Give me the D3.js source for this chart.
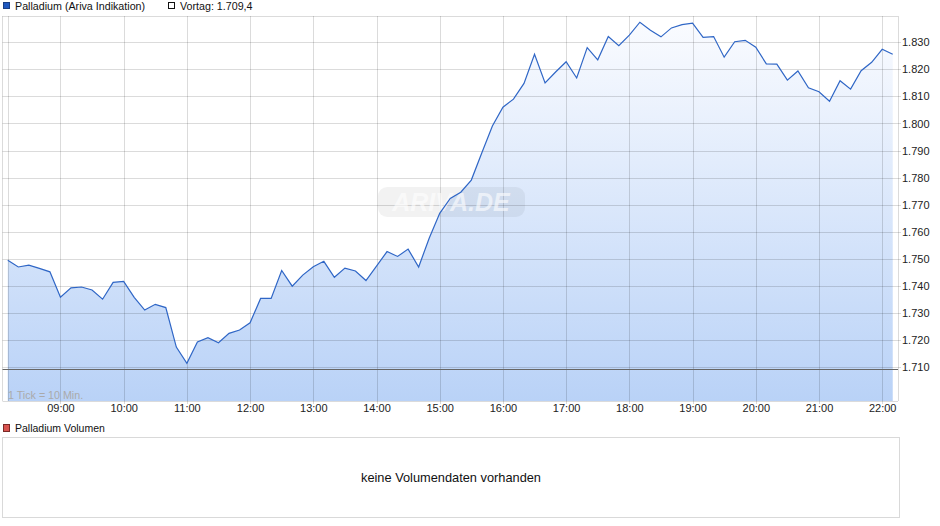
<script src="https://d3js.org/d3.v7.min.js"></script>

<style>
  body { margin: 0; background: #fff; }
  svg { font-family: "Liberation Sans", Arial, sans-serif; }
</style>

<body>
  <svg id='svg'></svg>
</body>

<script>
  let width = 940;
  let height = 526;

  // Kurs alle 10 Minuten, 08:10 bis 22:10
  let startTime = '08:10';
  let stepMinutes = 10;
  let prices = [
    1749.5, 1747.0, 1747.7, 1746.5, 1745.2, 1735.8, 1739.3, 1739.6, 1738.5, 1735.1,
    1741.3, 1741.7, 1735.8, 1731.1, 1733.2, 1732.0, 1717.4, 1711.4, 1719.3, 1720.9,
    1719.0, 1722.5, 1723.7, 1726.4, 1735.4, 1735.4, 1745.7, 1739.9, 1744.0, 1747.1,
    1749.1, 1743.2, 1746.6, 1745.5, 1742.0, 1747.3, 1752.7, 1750.9, 1753.6, 1747.0,
    1757.6, 1766.8, 1772.3, 1774.6, 1779.1, 1789.2, 1799.1, 1806.0, 1809.0, 1814.8,
    1825.6, 1815.0, 1819.0, 1822.8, 1816.8, 1828.0, 1823.5, 1832.1, 1828.7, 1832.6,
    1837.4, 1834.4, 1832.0, 1835.3, 1836.5, 1837.1, 1831.8, 1832.1, 1824.5, 1830.2,
    1830.7, 1828.2, 1822.0, 1821.9, 1816.0, 1819.4, 1813.2, 1811.7, 1808.2, 1815.8,
    1812.7, 1819.5, 1822.6, 1827.4, 1825.6
  ];
  let prevClose = 1709.4;
  let yTicks = [1710, 1720, 1730, 1740, 1750, 1760, 1770, 1780, 1790, 1800, 1810, 1820, 1830];
  let xTicks = ['09:00', '10:00', '11:00', '12:00', '13:00', '14:00', '15:00', '16:00',
                '17:00', '18:00', '19:00', '20:00', '21:00', '22:00'];

  let parseTime = d3.timeParse('%H:%M');
  let t0 = parseTime(startTime);
  let data = prices.map((p, i) => ({ t: d3.timeMinute.offset(t0, i * stepMinutes), v: p }));

  let plot = { left: 2.5, right: 898, top: 16, bottom: 401 };

  let svg = d3.select('#svg')
    .attr('width', width)
    .attr('height', height);

  let x = d3.scaleTime()
    .domain([parseTime('08:05'), parseTime('22:15')])
    .range([plot.left, plot.right]);

  let y = d3.scaleLinear()
    .domain([1697.5, 1839.7])
    .range([plot.bottom, plot.top]);

  let fmt = d3.format(',.0f');
  let deNum = v => fmt(v).replace(/,/g, '.');

  // gradient for area
  let defs = svg.append('defs');
  let grad = defs.append('linearGradient')
    .attr('id', 'fillGrad')
    .attr('gradientUnits', 'userSpaceOnUse')
    .attr('x1', 0).attr('x2', 0)
    .attr('y1', plot.top).attr('y2', plot.bottom);
  grad.append('stop').attr('offset', '0%').attr('stop-color', '#fbfcff');
  grad.append('stop').attr('offset', '100%').attr('stop-color', '#b9d2f7');

  // legend
  let legend = svg.append('g');
  legend.append('rect').attr('x', 3.5).attr('y', 2.5).attr('width', 6).attr('height', 6)
    .attr('fill', '#1f58c0').attr('stroke', '#1a3f85');
  legend.append('text').attr('x', 15).attr('y', 10).attr('font-size', 10.7).attr('fill', '#111')
    .text('Palladium (Ariva Indikation)');
  legend.append('rect').attr('x', 168.5).attr('y', 2.5).attr('width', 6).attr('height', 6)
    .attr('fill', '#fff').attr('stroke', '#111');
  legend.append('text').attr('x', 180).attr('y', 10).attr('font-size', 10.7).attr('fill', '#111')
    .text('Vortag: ' + d3.format('.1f')(prevClose).replace('.', ',').replace(/^(\d)(\d{3})/, '$1.$2'));

  // area + line
  let area = d3.area()
    .x(d => x(d.t))
    .y0(plot.bottom)
    .y1(d => y(d.v));

  let line = d3.line()
    .x(d => x(d.t))
    .y(d => y(d.v));

  svg.append('path')
    .datum(data)
    .attr('d', area)
    .attr('fill', 'url(#fillGrad)');

  // grid
  let grid = svg.append('g').attr('stroke', 'rgba(0,0,0,0.14)').attr('stroke-width', 1);
  grid.selectAll('.hg')
    .data(yTicks)
    .enter()
    .append('line')
    .attr('x1', plot.left).attr('x2', plot.right + 3)
    .attr('y1', d => Math.round(y(d)) + 0.5).attr('y2', d => Math.round(y(d)) + 0.5);
  grid.selectAll('.vg')
    .data(xTicks)
    .enter()
    .append('line')
    .attr('x1', d => Math.round(x(parseTime(d))) + 0.5).attr('x2', d => Math.round(x(parseTime(d))) + 0.5)
    .attr('y1', plot.top).attr('y2', plot.bottom + 3);
  // frame
  grid.append('line').attr('x1', plot.left).attr('x2', plot.right).attr('y1', plot.top + 0.5).attr('y2', plot.top + 0.5);
  grid.append('line').attr('x1', plot.left).attr('x2', plot.left).attr('y1', plot.top).attr('y2', plot.bottom);
  grid.append('line').attr('x1', Math.round(x(data[0].t)) + 0.5).attr('x2', Math.round(x(data[0].t)) + 0.5)
    .attr('y1', plot.top).attr('y2', plot.bottom);
  grid.append('line').attr('x1', plot.right + 0.5).attr('x2', plot.right + 0.5).attr('y1', plot.top).attr('y2', plot.bottom);
  grid.append('line').attr('x1', plot.left).attr('x2', plot.right).attr('y1', plot.bottom + 0.5).attr('y2', plot.bottom + 0.5);

  // watermark
  let wm = svg.append('g');
  wm.append('rect').attr('x', 378).attr('y', 187).attr('width', 147).attr('height', 30).attr('rx', 9)
    .attr('fill', 'rgba(0,0,0,0.05)');
  wm.append('text').attr('x', 451).attr('y', 211).attr('text-anchor', 'middle')
    .attr('font-size', 25).attr('font-style', 'italic').attr('font-weight', 'bold')
    .attr('fill', 'rgba(255,255,255,0.6)').text('ARIVA.DE');

  svg.append('path')
    .datum(data)
    .attr('d', line)
    .attr('fill', 'none')
    .attr('stroke', '#2f66c6')
    .attr('stroke-width', 1.2);

  // previous close line
  svg.append('line')
    .attr('x1', plot.left).attr('x2', plot.right)
    .attr('y1', Math.round(y(prevClose)) + 0.5).attr('y2', Math.round(y(prevClose)) + 0.5)
    .attr('stroke', '#666').attr('stroke-width', 1);

  svg.append('text').attr('x', 8).attr('y', 399).attr('font-size', 10.7).attr('fill', '#aaa')
    .text('1 Tick = 10 Min.');

  // axes
  let yAxis = d3.axisRight(y).tickValues(yTicks).tickSize(0).tickPadding(0).tickFormat(deNum);
  svg.append('g')
    .attr('transform', 'translate(' + (plot.right + 4) + ',0)')
    .call(yAxis)
    .call(g => g.select('.domain').remove())
    .selectAll('text').attr('font-size', 11).attr('fill', '#222').attr('font-family', '"Liberation Sans", Arial, sans-serif');

  let xAxis = d3.axisBottom(x).tickValues(xTicks.map(parseTime)).tickSize(0).tickPadding(0)
    .tickFormat(d3.timeFormat('%H:%M'));
  svg.append('g')
    .attr('transform', 'translate(0,' + (plot.bottom + 3) + ')')
    .call(xAxis)
    .call(g => g.select('.domain').remove())
    .selectAll('text').attr('font-size', 11).attr('fill', '#222').attr('font-family', '"Liberation Sans", Arial, sans-serif');

  // volume panel
  svg.append('rect').attr('x', 3.5).attr('y', 424.5).attr('width', 6).attr('height', 7)
    .attr('fill', '#d9534f').attr('stroke', '#7a2a28');
  svg.append('text').attr('x', 15).attr('y', 432).attr('font-size', 10.5).attr('fill', '#111')
    .text('Palladium Volumen');
  svg.append('rect').attr('x', 2.5).attr('y', 437.5).attr('width', 897).attr('height', 80)
    .attr('fill', '#fff').attr('stroke', '#d9d9d9');
  svg.append('text').attr('x', 451).attr('y', 482).attr('text-anchor', 'middle')
    .attr('font-size', 12.8).attr('fill', '#111')
    .text('keine Volumendaten vorhanden');
</script>
